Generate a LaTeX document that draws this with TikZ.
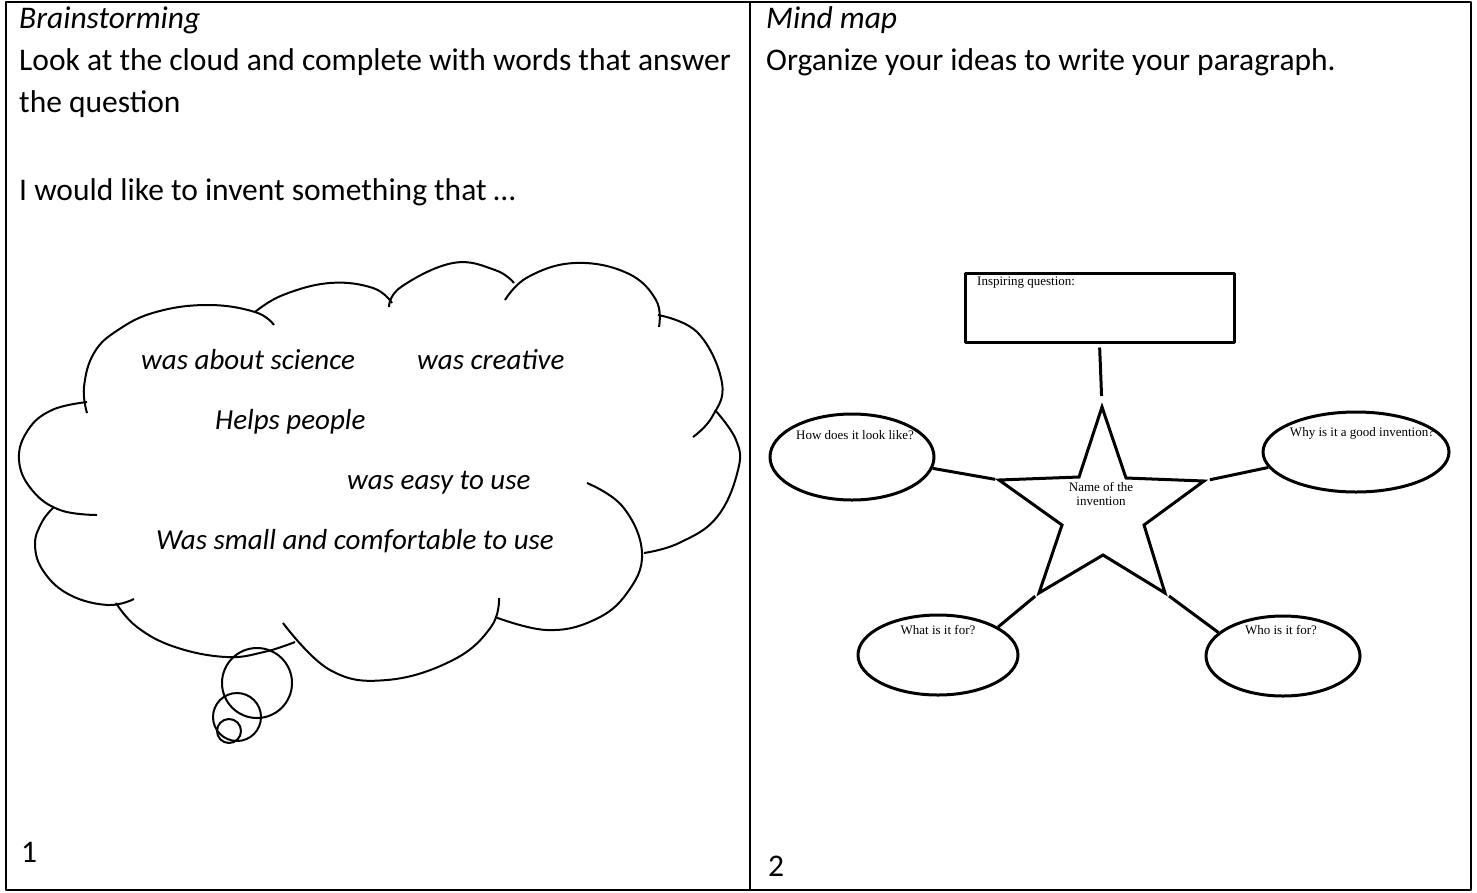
\documentclass[tikz,border=0pt]{standalone}
\usepackage{fontspec}
\setmainfont{Carlito}
\newfontfamily\mapfont{Liberation Serif}
\usetikzlibrary{shapes.geometric}
\begin{document}
\begin{tikzpicture}[x=1pt,y=-1pt,line join=round,
  body/.style={anchor=base west,inner sep=0pt,font=\fontsize{31.5}{38}\selectfont},
  head/.style={anchor=base west,inner sep=0pt,font=\fontsize{31.5}{38}\selectfont\itshape},
  idea/.style={anchor=base west,inner sep=0pt,font=\fontsize{29}{34}\selectfont\itshape},
  frame/.style={line width=2pt},
  cloudline/.style={line width=2pt},
  mapline/.style={line width=3pt},
  oval/.style={draw,ellipse,line width=3pt,inner sep=0pt},
  lbl/.style={inner sep=0pt,font=\mapfont\fontsize{13}{13.5}\selectfont},
  bub/.style={draw,circle,line width=2pt,inner sep=0pt}
]
\useasboundingbox (0,0) rectangle (1477,892);
% table frame
\draw[frame] (6,2) rectangle (1471,890);
\draw[frame] (750,2) -- (750,890);

% left column texts
\node[head] (t1) at (19,28) {Brainstorming};
\node[body] (t2) at (19,70) {Look at the cloud and complete with words that answer};
\node[body] (t3) at (19,112) {the question};
\node[body] (t4) at (19,200) {I would like to invent something that …};
\node[body] (n1) at (21,862) {1};

% right column texts
\node[head] (t5) at (766,28) {Mind map};
\node[body] (t6) at (766,70) {Organize your ideas to write your paragraph.};
\node[body] (n2) at (768,876) {2};

% cloud lobes
\begin{scope}[cloudline]
\draw plot[smooth,tension=0.7] coordinates {(87,413) (84,387) (94,353) (118,330) (156,312) (208,305) (255,312) (274,325)};
\draw plot[smooth,tension=0.7] coordinates {(255,312) (283,295) (330,283) (373,288) (392,303)};
\draw plot[smooth,tension=0.7] coordinates {(389,307) (401,287) (453,263) (495,270) (514,283)};
\draw plot[smooth,tension=0.7] coordinates {(505,300) (528,277) (575,263) (627,273) (656,300) (659,327)};
\draw plot[smooth,tension=0.7] coordinates {(658,315) (698,333) (722,383) (712,417) (693,437)};
\draw plot[smooth,tension=0.7] coordinates {(715,410) (736,440) (738,470) (717,517) (679,543) (644,553)};
\draw plot[smooth,tension=0.7] coordinates {(587,483) (623,507) (642,553) (627,593) (594,620) (547,630) (495,617)};
\draw plot[smooth,tension=0.7] coordinates {(499,598) (491,627) (453,660) (387,680) (330,670) (283,623)};
\draw plot[smooth,tension=0.7] coordinates {(295,642) (264,652) (226,657) (175,647) (137,627) (116,603)};
\draw plot[smooth,tension=0.7] coordinates {(134,599) (108,605) (70,595) (44,572) (35,545) (42,522) (54,507)};
\draw plot[smooth,tension=0.7] coordinates {(97,515) (60,510) (32,490) (19,460) (28,430) (52,410) (87,402)};
\end{scope}
\node[bub,minimum size=70pt] (b1) at (257,683) {};
\node[bub,minimum size=48pt] (b2) at (237,717) {};
\node[bub,minimum size=24pt] (b3) at (229,731) {};

% cloud ideas
\node[idea] (i1) at (141,369) {was about science};
\node[idea] (i2) at (417,369) {was creative};
\node[idea] (i3) at (215,429) {Helps people};
\node[idea] (i4) at (347,489) {was easy to use};
\node[idea] (i5) at (156,549) {Was small and comfortable to use};

% mind map
\node[draw,mapline,rectangle,minimum width=269pt,minimum height=69pt,inner sep=0pt] (q) at (1099.5,307.5) {};
\node[lbl,anchor=west] (qt) at (977,283) {Inspiring question:};

\coordinate (s1) at (1102,407);
\coordinate (s2) at (1126,478);
\coordinate (s3) at (1204,481);
\coordinate (s4) at (1144,525);
\coordinate (s5) at (1165,593);
\coordinate (s6) at (1103,555);
\coordinate (s7) at (1039,593);
\coordinate (s8) at (1062,525);
\coordinate (s9) at (999,480);
\coordinate (s10) at (1079,477);
\draw[mapline,line join=miter] (s1) -- (s2) -- (s3) -- (s4) -- (s5) -- (s6) -- (s7) -- (s8) -- (s9) -- (s10) -- cycle;
\node[lbl,align=center] (st) at (1101,494) {Name of the\\invention};

\node[oval,minimum width=164pt,minimum height=86pt] (how) at (852,457) {};
\node[oval,minimum width=186pt,minimum height=80pt] (why) at (1356,452) {};
\node[oval,minimum width=160pt,minimum height=80pt] (what) at (938,655) {};
\node[oval,minimum width=154pt,minimum height=80pt] (who) at (1283,656) {};
\node[lbl] (howt) at (855,435) {How does it look like?};
\node[lbl] (whyt) at (1362,433) {Why is it a good invention?};
\node[lbl] (whatt) at (938,630) {What is it for?};
\node[lbl] (whot) at (1281,630) {Who is it for?};

\draw[mapline,shorten <=4pt,shorten >=11pt] (q.south) -- (s1);
\draw[mapline,shorten >=4pt] (how.-8) -- (s9);
\draw[mapline,shorten <=6pt] (s3) -- (why.190);
\draw[mapline,shorten <=5pt] (s7) -- (what.25);
\draw[mapline,shorten <=5pt] (s5) -- (who.160);
\end{tikzpicture}
\end{document}
